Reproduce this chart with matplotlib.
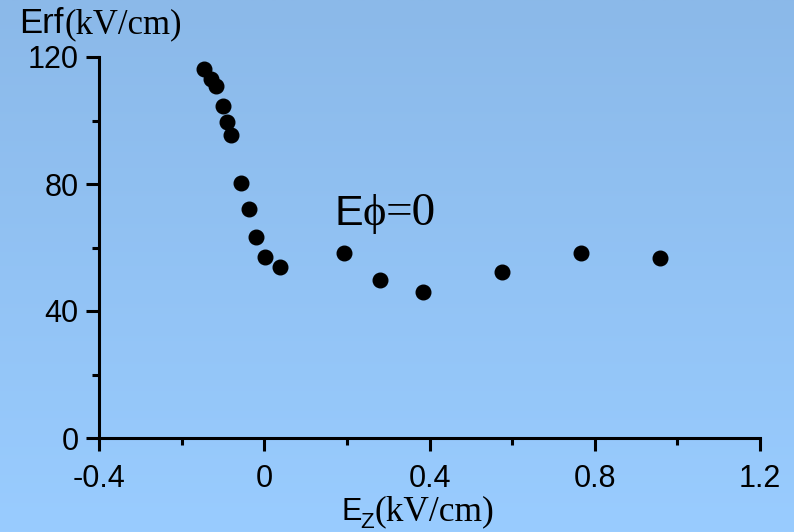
import numpy as np
import matplotlib
matplotlib.use("Agg")
import matplotlib.pyplot as plt
from matplotlib.ticker import MultipleLocator, FixedLocator

# Data
ez = [-0.145, -0.129, -0.118, -0.099, -0.091, -0.080, -0.056, -0.038,
      -0.019, 0.001, 0.039, 0.192, 0.281, 0.384, 0.575, 0.766, 0.958]
erf = [116.1, 113.0, 110.9, 104.6, 99.5, 95.5, 80.3, 72.0,
       63.2, 56.9, 53.8, 58.4, 49.9, 46.0, 52.3, 58.4, 56.8]
x_ticks = [-0.4, 0, 0.4, 0.8, 1.2]
x_tick_labels = ["-0.4", "0", "0.4", "0.8", "1.2"]
y_ticks = [0, 40, 80, 120]
y_tick_labels = ["0", "40", "80", "120"]

W, H = 794, 532
fig = plt.figure(figsize=(W / 100, H / 100), dpi=100)

# gradient background
bg = fig.add_axes([0, 0, 1, 1], zorder=-10)
top = np.array([0x8B, 0xB9, 0xE9]) / 255
bot = np.array([0x99, 0xCC, 0xFF]) / 255
t = np.linspace(0, 1, 256)[:, None]
grad = (top[None, :] * (1 - t) + bot[None, :] * t)[:, None, :]
bg.imshow(grad, aspect="auto", extent=[0, 1, 0, 1])
bg.axis("off")

SANS = ["Liberation Sans", "DejaVu Sans"]
SERIF = ["Liberation Serif", "DejaVu Serif"]

left, right = 99 / W, 760 / W
bottom, topy = 1 - 438 / H, 1 - 57 / H
ax = fig.add_axes([left, bottom, right - left, topy - bottom])
ax.set_facecolor("none")

ax.plot(ez, erf, "o", color="black", markersize=10.5, clip_on=False)

ax.set_xlim(-0.4, 1.2)
ax.set_ylim(0, 120)
for s in ["top", "right"]:
    ax.spines[s].set_visible(False)
for s in ["left", "bottom"]:
    ax.spines[s].set_linewidth(2.2)

ax.xaxis.set_major_locator(FixedLocator(x_ticks))
ax.set_xticklabels(x_tick_labels, fontsize=22, family=SANS)
ax.yaxis.set_major_locator(FixedLocator(y_ticks))
ax.set_yticklabels(y_tick_labels, fontsize=22, family=SANS)
ax.xaxis.set_minor_locator(MultipleLocator(0.2))
ax.yaxis.set_minor_locator(MultipleLocator(20))
ax.tick_params(which="major", length=9.5, width=2.2, direction="out")
ax.tick_params(which="minor", length=5, width=2.2, direction="out")
ax.tick_params(axis="x", which="major", pad=9)
ax.tick_params(axis="y", which="major", pad=5)

def px(x, y):
    return x / W, 1 - y / H

# y-axis label
fig.text(*px(19, 33), "Erf", fontsize=25, family=SANS, va="baseline", ha="left")
fig.text(*px(64, 33), "(kV/cm)", fontsize=25, family=SERIF, va="baseline", ha="left")

# x-axis label
fig.text(*px(341, 520), "E", fontsize=22, family=SANS, va="baseline", ha="left")
fig.text(*px(360, 528), "Z", fontsize=16, family=SANS, va="baseline", ha="left")
fig.text(*px(375, 520), "(kV/cm)", fontsize=25.5, family=SERIF, va="baseline", ha="left")

# annotation
fig.text(*px(334, 225), "E", fontsize=31, family=SANS, va="baseline", ha="left")
fig.text(*px(362, 225), "\u03d5", fontsize=32, family=SERIF, va="baseline", ha="left")
fig.text(*px(386, 225), "=0", fontsize=34, family=SERIF, va="baseline", ha="left")

fig.savefig("out.png", dpi=100)
